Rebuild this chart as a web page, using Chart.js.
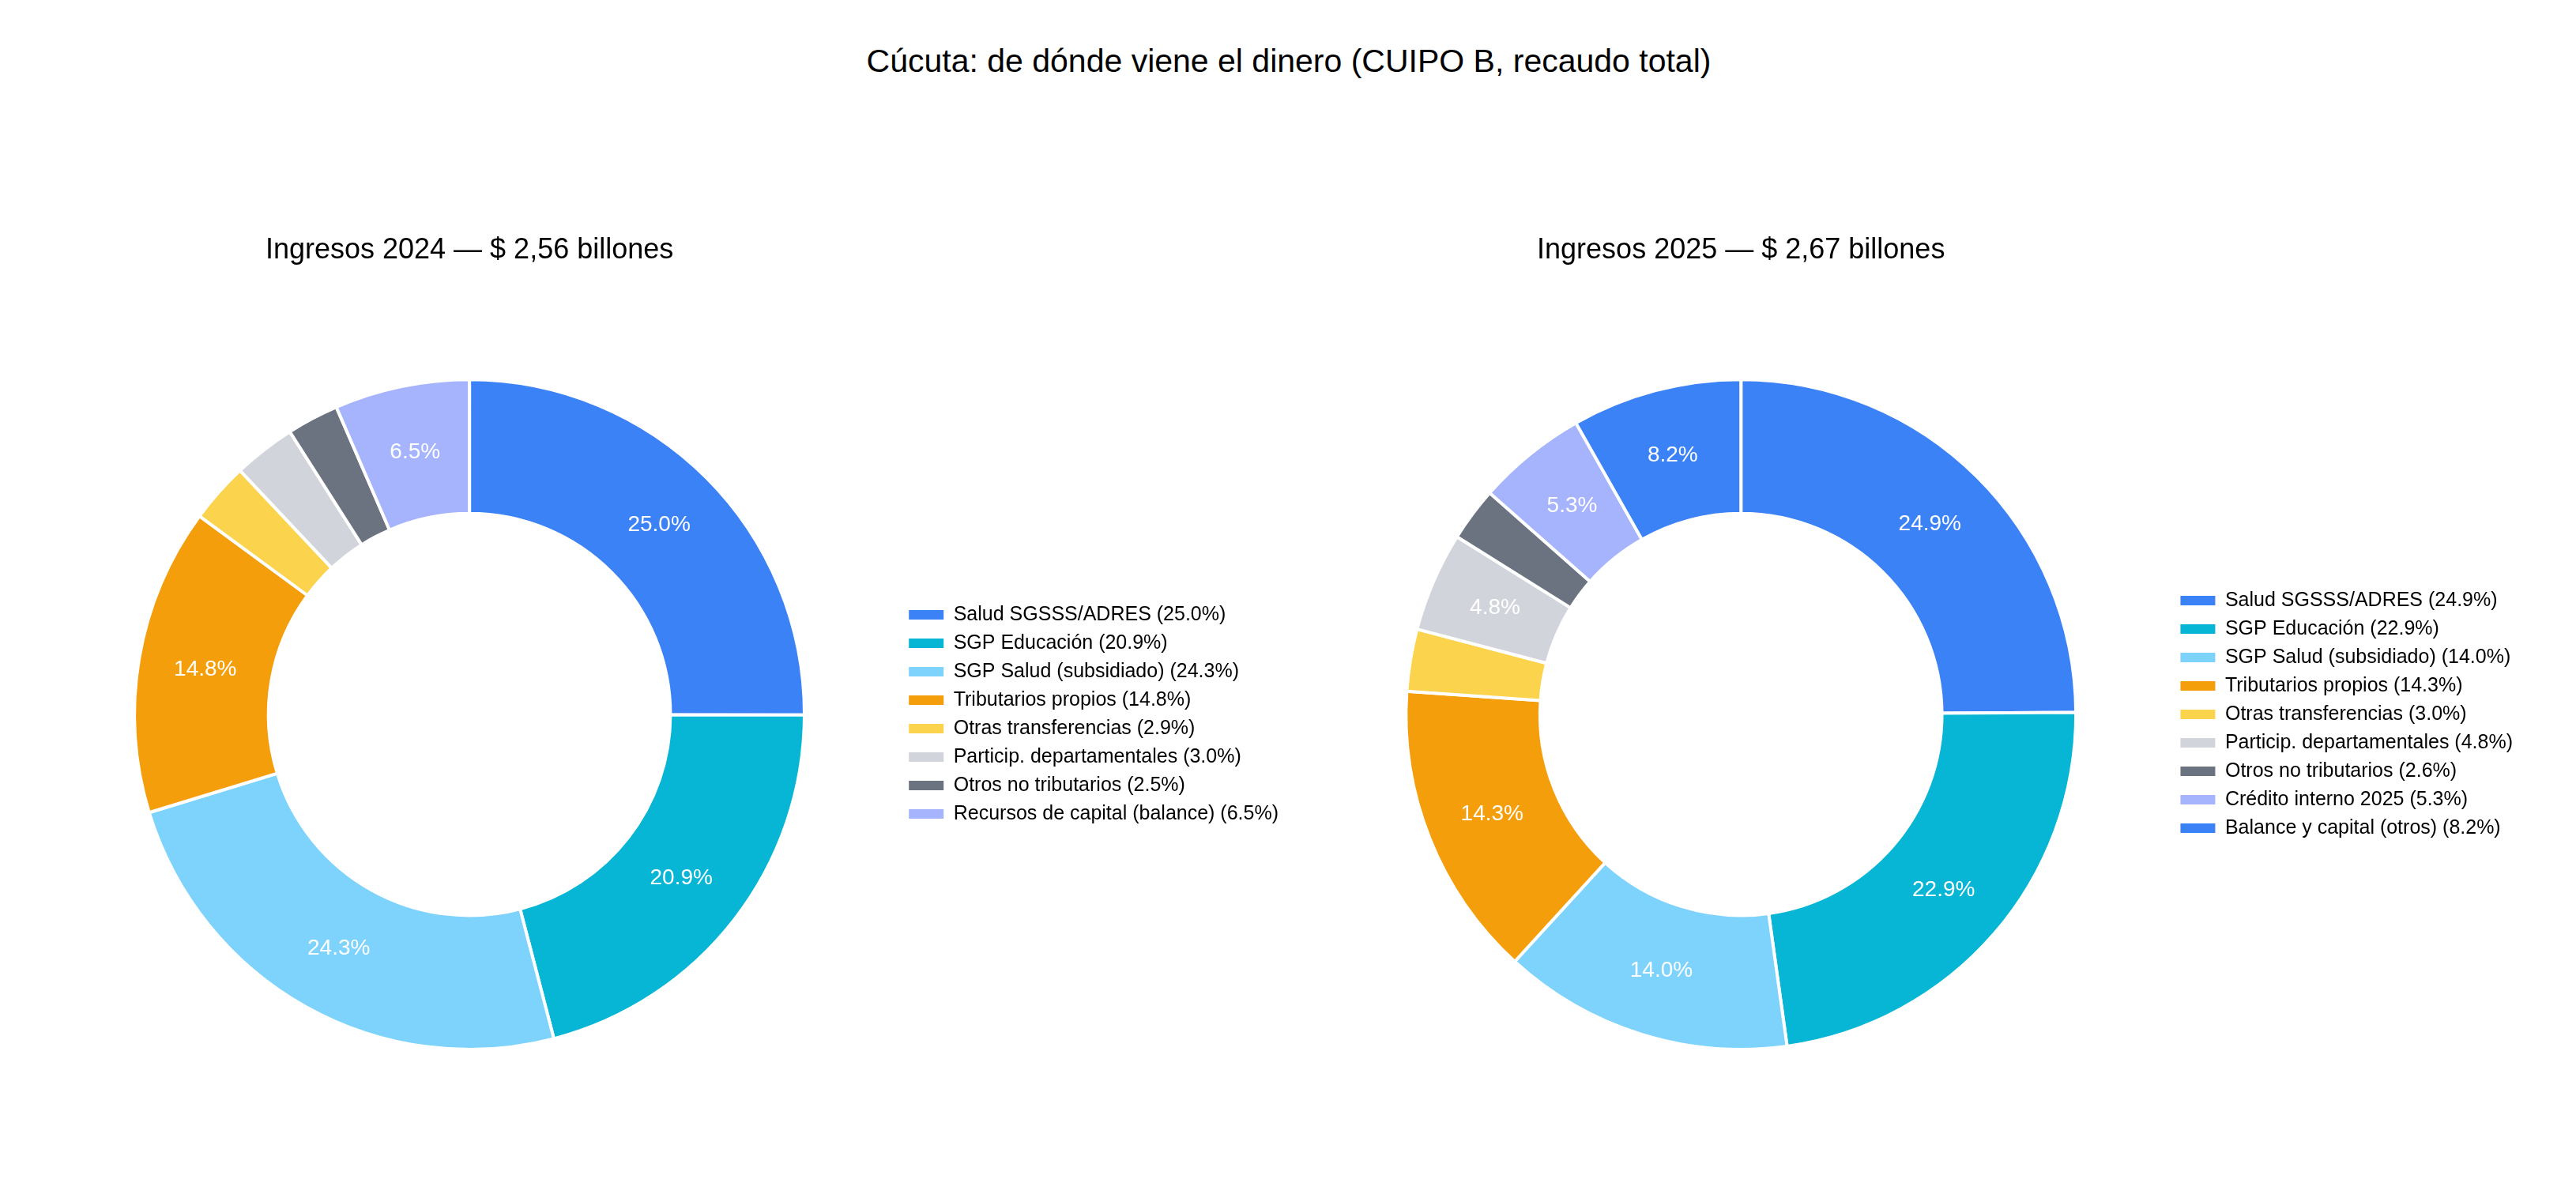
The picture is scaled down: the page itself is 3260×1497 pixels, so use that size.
<!DOCTYPE html>
<html lang="es">
<head>
<meta charset="utf-8">
<title>Cúcuta: de dónde viene el dinero</title>
<script src="https://cdn.jsdelivr.net/npm/chart.js@4.4.1/dist/chart.umd.min.js"></script>
<style>
  html, body { margin: 0; padding: 0; background: #fff; }
  body { width: 3260px; height: 1497px; position: relative; overflow: hidden; font-family: "Liberation Sans", Arial, sans-serif; }
  #mainTitle {
    position: absolute; left: 0; top: 52px; width: 3262px;
    text-align: center; font-size: 41px; line-height: 50px; color: #000;
  }
  canvas { position: absolute; }
  #c2024 { left: 49px; top: 270px; }
  #c2025 { left: 1658px; top: 270px; }
</style>
</head>
<body>
<div id="mainTitle">Cúcuta: de dónde viene el dinero (CUIPO B, recaudo total)</div>
<canvas id="c2024" width="1579" height="1060"></canvas>
<canvas id="c2025" width="1532" height="1060"></canvas>
<script>
// data (percent of total revenue)
const labels2024 = ['Salud SGSSS/ADRES', 'SGP Educación', 'SGP Salud (subsidiado)', 'Tributarios propios',
  'Otras transferencias', 'Particip. departamentales', 'Otros no tributarios', 'Recursos de capital (balance)'];
const values2024 = [25.0, 20.9, 24.3, 14.8, 2.9, 3.0, 2.5, 6.5];

const labels2025 = ['Salud SGSSS/ADRES', 'SGP Educación', 'SGP Salud (subsidiado)', 'Tributarios propios',
  'Otras transferencias', 'Particip. departamentales', 'Otros no tributarios', 'Crédito interno 2025',
  'Balance y capital (otros)'];
const values2025 = [24.9, 22.9, 14.0, 14.3, 3.0, 4.8, 2.6, 5.3, 8.2];

const palette = ['#3b82f6', '#06b6d4', '#7dd3fc', '#f59e0b', '#fcd34d', '#d1d5db', '#6b7280', '#a5b4fc'];

const title2024 = 'Ingresos 2024 — $ 2,56 billones';
const title2025 = 'Ingresos 2025 — $ 2,67 billones';

const FONT = '"Liberation Sans", Arial, sans-serif';
const minLabelPct = 4;

// white percentage labels in the middle of the ring
const pctLabels = {
  id: 'pctLabels',
  afterDatasetsDraw(chart) {
    const ctx = chart.ctx;
    const meta = chart.getDatasetMeta(0);
    const vals = chart.data.datasets[0].data;
    ctx.save();
    ctx.font = '28px ' + FONT;
    ctx.fillStyle = '#ffffff';
    ctx.textAlign = 'center';
    ctx.textBaseline = 'middle';
    meta.data.forEach((arc, i) => {
      if (vals[i] < minLabelPct) return;
      const p = arc.tooltipPosition();
      ctx.fillText(vals[i].toFixed(1) + '%', p.x, p.y);
    });
    ctx.restore();
  }
};

function makeDonut(id, labels, values, title) {
  const colors = labels.map((_, i) => palette[i % palette.length]);
  return new Chart(document.getElementById(id), {
    type: 'doughnut',
    data: {
      labels: labels,
      datasets: [{
        data: values,
        backgroundColor: colors,
        borderColor: '#ffffff',
        borderWidth: 4,
        hoverOffset: 0,
        offset: 0
      }]
    },
    options: {
      responsive: false,
      maintainAspectRatio: false,
      devicePixelRatio: 1,
      animation: false,
      cutout: '60%',
      layout: { padding: 0 },
      plugins: {
        tooltip: { enabled: false },
        title: {
          display: true,
          text: title,
          color: '#000',
          fullSize: false,
          font: { family: FONT, size: 36, weight: 'normal', lineHeight: 1.2 },
          padding: { top: 25, bottom: 140 }
        },
        legend: {
          position: 'right',
          align: 'center',
          fullSize: false,
          labels: {
            color: '#000',
            font: { family: FONT, size: 25 },
            boxWidth: 44,
            boxHeight: 12,
            padding: 11,
            generateLabels(chart) {
              const base = Chart.overrides.doughnut.plugins.legend.labels.generateLabels(chart);
              return base.map((item, i) => Object.assign(item, {
                text: labels[i] + ' (' + values[i].toFixed(1) + '%)',
                lineWidth: 0,
                strokeStyle: 'rgba(0,0,0,0)'
              }));
            }
          }
        }
      }
    },
    plugins: [pctLabels]
  });
}

makeDonut('c2024', labels2024, values2024, title2024);
makeDonut('c2025', labels2025, values2025, title2025);
</script>
</body>
</html>
